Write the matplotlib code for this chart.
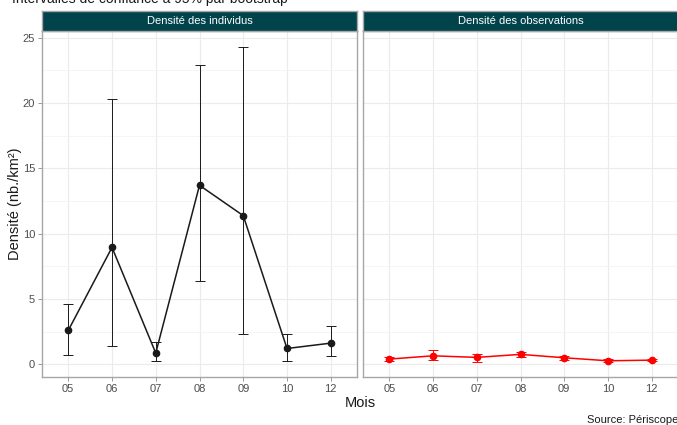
import matplotlib.pyplot as plt
from matplotlib.ticker import MultipleLocator

plt.rcParams['font.family'] = ['Liberation Sans', 'DejaVu Sans']

# Monthly density estimates with bootstrap 95% intervals
mois = ['05', '06', '07', '08', '09', '10', '12']

ind_val = [2.6, 8.95, 0.87, 13.7, 11.38, 1.22, 1.63]
ind_low = [0.74, 1.40, 0.26, 6.40, 2.32, 0.28, 0.64]
ind_high = [4.59, 20.3, 1.68, 22.9, 24.3, 2.30, 2.91]

obs_val = [0.41, 0.66, 0.54, 0.77, 0.51, 0.28, 0.33]
obs_low = [0.26, 0.33, 0.15, 0.54, 0.36, 0.18, 0.23]
obs_high = [0.54, 1.07, 0.82, 0.99, 0.66, 0.38, 0.41]

W, H = 677, 425
fig = plt.figure(figsize=(W / 100, H / 100), dpi=100)
fig.patch.set_facecolor('white')

strip_col = '#00434a'
border_col = '#a6a6a6'
grid_col = '#ebebeb'


def px_axes(x0, y0, x1, y1):
    return fig.add_axes([x0 / W, 1 - y1 / H, (x1 - x0) / W, (y1 - y0) / H])


def panel(x0, x1, val, low, high, color, title, show_y):
    ax = px_axes(x0, 31, x1, 377)
    yerr = [[v - l for v, l in zip(val, low)], [h - v for v, h in zip(val, high)]]
    ax.errorbar(mois, val, yerr=yerr, color=color, ecolor=color, lw=1.1,
                elinewidth=0.7, capsize=3.3, capthick=0.7, marker='o',
                markersize=4.5, zorder=3)
    ax.set_xlim(-0.6, 6.6)
    ax.set_ylim(-0.96, 25.5)
    ax.yaxis.set_major_locator(MultipleLocator(5))
    ax.yaxis.set_minor_locator(MultipleLocator(2.5))
    ax.grid(True, which='major', color=grid_col, lw=0.8, zorder=0)
    ax.grid(True, which='minor', axis='y', color='#f4f4f4', lw=0.6, zorder=0)
    ax.set_axisbelow(True)
    for s in ax.spines.values():
        s.set_color(border_col)
        s.set_linewidth(1.0)
    ax.tick_params(axis='both', which='major', colors='#4d4d4d', labelcolor='#4d4d4d',
                   labelsize=8, length=3, width=0.7, pad=2)
    ax.tick_params(axis='y', which='minor', length=0)
    ax.tick_params(axis='x', colors='#999999', labelcolor='#4d4d4d')
    if not show_y:
        ax.tick_params(axis='y', which='both', left=False, labelleft=False)
    else:
        ax.tick_params(axis='y', colors='#999999', labelcolor='#4d4d4d')

    st = px_axes(x0, 11, x1, 31)
    st.set_facecolor(strip_col)
    st.set_xticks([])
    st.set_yticks([])
    for s in st.spines.values():
        s.set_color(border_col)
        s.set_linewidth(1.0)
    st.text(0.5, 0.5, title, color='white', fontsize=8, ha='center', va='center',
            transform=st.transAxes)
    return ax


panel(42, 357, ind_val, ind_low, ind_high, '#1a1a1a', 'Densité des individus', True)
panel(363, 678, obs_val, obs_low, obs_high, '#ff0000', 'Densité des observations', False)

fig.text(12 / W, 1 - 3.5 / H, 'Intervalles de confiance à 95% par bootstrap',
         fontsize=10, ha='left', va='baseline', color='#1a1a1a')
fig.text(15 / W, 1 - 204 / H, 'Densité (nb./km²)', rotation=90, fontsize=10.5,
         ha='center', va='center', color='#1a1a1a')
fig.text(360 / W, 1 - 403 / H, 'Mois', fontsize=10.5, ha='center', va='center',
         color='#1a1a1a')
fig.text(678 / W, 1 - 420 / H, 'Source: Périscope', fontsize=8, ha='right',
         va='center', color='#1a1a1a')

fig.savefig('out.png', dpi=100)
